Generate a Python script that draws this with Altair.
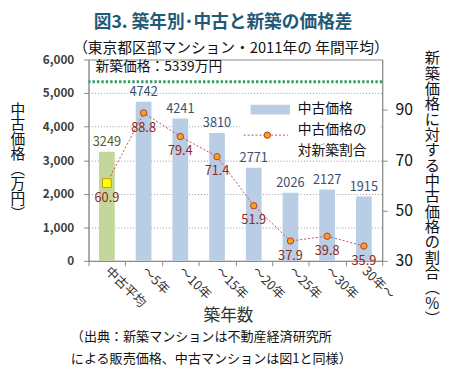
import altair as alt
import pandas as pd

categories = ["中古平均", "～5年", "～10年", "～15年", "～20年", "～25年", "～30年", "30年～"]
used_price = [3249, 4742, 4241, 3810, 2771, 2026, 2127, 1915]
ratio = [60.9, 88.8, 79.4, 71.4, 51.9, 37.9, 39.8, 35.9]
new_price = 5339
left_ticks = [0, 1000, 2000, 3000, 4000, 5000, 6000]
right_ticks = [30, 50, 70, 90]

title_text = "図3. 築年別･中古と新築の価格差"
subtitle_text = "（東京都区部マンション・2011年の 年間平均）"
source_lines = ["（出典：新築マンションは不動産経済研究所", "による販売価格、中古マンションは図1と同様）"]
x_title = "築年数"
left_title = "中古価格︵万円︶"
right_title = "新築価格に対する中古価格の割合︵%︶"
legend_bar = "中古価格"
legend_line = ["中古価格の", "対新築割合"]
new_label = f"新築価格：{new_price}万円"
avg_cat = categories[0]

df = pd.DataFrame({"cat": categories, "price": used_price, "ratio": ratio})
new_df = pd.DataFrame({"price": [new_price]})
one = pd.DataFrame({"k": [0]})

W, H = 299, 205
FONT = "Noto Sans CJK JP"
BLUE = "#B9CDE5"
GREEN = "#C3D69B"
RED = "#C0504D"

x_enc = alt.X(
    "cat:N", sort=categories,
    scale=alt.Scale(paddingInner=0, paddingOuter=0),
    axis=alt.Axis(
        title=x_title, labelAngle=45, labelAlign="left", labelBaseline="middle",
        labelPadding=3, tickBand="extent", tickSize=5, domainColor="#888",
        tickColor="#888", labelFontSize=13, labelColor="#333",
        titleFontSize=17, titleFontWeight="normal", titleX=142, titleY=56,
        titleBaseline="middle", titleAlign="center", titleColor="#333",
    ),
)

y_left = alt.Y(
    "price:Q", scale=alt.Scale(domain=[0, 6000], nice=False),
    axis=alt.Axis(
        orient="left", values=left_ticks, format=",d", title=None,
        labelFontWeight="bold", labelFontSize=12, labelColor="#404040", labelPadding=10,
        labelOverlap=False, tickSize=5, domainColor="#888", tickColor="#888",
        grid=True, gridDash=[1, 2], gridColor="#999",
    ),
)

y_right = alt.Y(
    "ratio:Q", scale=alt.Scale(domain=[30, 110], nice=False),
    axis=alt.Axis(
        orient="right", values=right_ticks, grid=False, title=None,
        labelFontSize=16, labelColor="#111", labelPadding=8, tickSize=5,
        labelOverlap=False, domainColor="#888", tickColor="#888",
    ),
)

is_avg = alt.datum.cat == avg_cat

bars = alt.Chart(df).mark_bar(size=16).encode(
    x=x_enc, y=y_left,
    color=alt.condition(is_avg, alt.value(GREEN), alt.value(BLUE)),
)
bar_labels = alt.Chart(df).mark_text(baseline="bottom", dy=-3, fontSize=13).encode(
    x=x_enc, y=y_left, text=alt.Text("price:Q"),
    color=alt.condition(is_avg, alt.value("#4F6228"), alt.value("#3A5070")),
)
new_rule = alt.Chart(new_df).mark_rule(color="#3A9D68", strokeWidth=3, strokeDash=[2.5, 2]).encode(
    y=y_left
)
new_text = alt.Chart(one).mark_text(align="left", baseline="middle", fontSize=14, color="#111").encode(
    x=alt.value(7), y=alt.value(8), text=alt.value(new_label)
)
left_group = alt.layer(bars, new_rule, new_text)

line = alt.Chart(df).mark_line(color=RED, strokeDash=[2, 2], strokeWidth=1).encode(x=x_enc, y=y_right)
pts = alt.Chart(df).transform_filter(alt.datum.cat != avg_cat).mark_point(
    shape="circle", filled=True, fill="#F5A31F", stroke="#B8392F", strokeWidth=1, size=42, opacity=1
).encode(x=x_enc, y=y_right)
sq = alt.Chart(df).transform_filter(is_avg).mark_point(
    shape="square", filled=True, fill="#FFFF00", stroke="#C89A00", strokeWidth=1, size=80, opacity=1
).encode(x=x_enc, y=y_right)
ratio_labels = alt.Chart(df).mark_text(baseline="middle", dy=15, fontSize=13, color="#8E2B26").encode(
    x=x_enc, y=y_right, text=alt.Text("ratio:Q", format=".1f")
)
right_group = alt.layer(line, pts, sq, ratio_labels)


def txt(t, x, y, size, align="left", baseline="middle", **kw):
    return alt.Chart(one).mark_text(align=align, baseline=baseline, fontSize=size, **kw).encode(
        x=alt.value(x), y=alt.value(y), text=alt.value(t)
    )


leg_bg = alt.Chart(one).mark_rect(fill="white").encode(
    x=alt.value(154), x2=alt.value(296), y=alt.value(38), y2=alt.value(88)
)
leg_sw = alt.Chart(one).mark_rect(fill=BLUE).encode(
    x=alt.value(165), x2=alt.value(205), y=alt.value(46), y2=alt.value(56)
)
leg_line = alt.Chart(one).mark_rule(color=RED, strokeDash=[2, 2], strokeWidth=1).encode(
    x=alt.value(158), x2=alt.value(203), y=alt.value(77)
)
leg_pt = alt.Chart(one).mark_point(
    shape="circle", filled=True, fill="#F5A31F", stroke="#B8392F", strokeWidth=1, size=42, opacity=1
).encode(x=alt.value(182), y=alt.value(77))

annot = alt.layer(
    leg_bg, leg_sw, leg_line, leg_pt,
    txt(legend_bar, 213, 50, 14, color="#111"),
    txt(legend_line[0], 213, 72, 14, color="#111"),
    txt(legend_line[1], 213, 93, 14, color="#111"),
    txt(title_text, 137, -37, 18, align="center", fontWeight="bold", color="#1F5A78"),
    txt(subtitle_text, 145, -12, 15, align="center", color="#111"),
    txt(source_lines[0], -18, 283, 13.3, color="#111"),
    txt(source_lines[1], -18, 305, 13.3, color="#111"),
    txt(list(left_title), -72, 44, 15, align="center", baseline="top", lineHeight=15.2, color="#111"),
    txt(list(right_title), W + 51, -8, 15.5, align="center", baseline="top", lineHeight=15.6, color="#111"),
)

bar_label_layer = alt.layer(bar_labels)

chart = alt.layer(
    alt.layer(left_group, annot, bar_labels), right_group
).resolve_scale(y="independent").properties(
    width=W, height=H,
    padding={"left": 82, "top": 49, "right": 69, "bottom": 126},
    autosize=alt.AutoSizeParams(type="none"),
).configure(font=FONT).configure_view(stroke="#999")

chart.save("out.html", embed_options={"renderer": "svg", "actions": False})
